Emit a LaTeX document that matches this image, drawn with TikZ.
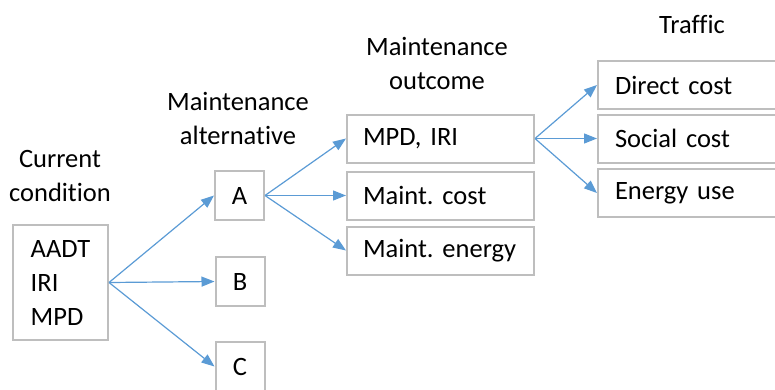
\documentclass[tikz,border=0pt]{standalone}
\usepackage{fontspec}
\setmainfont[WordSpace=0.8,Ligatures=NoCommon]{Carlito}
\usetikzlibrary{arrows.meta}
\definecolor{boxgray}{RGB}{190,190,190}
\definecolor{arrowblue}{RGB}{91,155,213}
\begin{document}
\begin{tikzpicture}[x=1pt,y=-1pt,
  every node/.style={font=\fontsize{26.5}{34}\selectfont\frenchspacing},
  box/.style={draw=boxgray, line width=2pt, rectangle, inner sep=0pt},
  sqbox/.style={box, minimum width=49pt, minimum height=49pt},
  widebox/.style={box, minimum height=48pt, text width=155pt, inner xsep=16pt, align=left},
  title/.style={align=center, inner sep=0pt},
  link/.style={draw=arrowblue, line width=1.2pt, -{Triangle[length=13pt,width=10pt]}}]
\useasboundingbox (0,0) rectangle (775,389);

% column headings
\node[title] (hcur) at (60,176) {Current\\condition};
\node[title] (halt) at (238,118) {Maintenance\\alternative};
\node[title] (hout) at (437,63) {Maintenance\\outcome};
\node[title] (htra) at (692,24) {Traffic};

% current condition
\node[box, minimum width=95pt, minimum height=115pt, align=left] (cur) at (60.5,282.5) {AADT\\IRI\\MPD};

% alternatives
\node[sqbox] (A) at (239.5,195.5) {A};
\node[sqbox] (B) at (240,281.5) {B};
\node[sqbox] (C) at (240,366.5) {C};

% maintenance outcomes
\node[widebox, minimum width=187pt] (mpd) at (440.5,138.5) {MPD, IRI};
\node[widebox, minimum width=187pt] (mcost) at (440.5,195.5) {Maint. cost};
\node[widebox, minimum width=187pt] (menergy) at (440.5,250.5) {Maint. energy};

% traffic outcomes, running on past the right edge
\node[widebox, text width=250pt, inner xsep=17pt] (direct) at (740,85) {Direct cost};
\node[widebox, text width=250pt, inner xsep=17pt] (social) at (740,138.5) {Social cost};
\node[widebox, text width=250pt, inner xsep=17pt] (energy) at (740,193) {Energy use};

% connectors
\draw[link] (cur.east) -- (A.west);
\draw[link] (cur.east) -- (B.west);
\draw[link] (cur.east) -- (C.west);
\draw[link] (A.east) -- (mpd.west);
\draw[link] (A.east) -- (mcost.west);
\draw[link] (A.east) -- (menergy.west);
\draw[link] (mpd.east) -- (direct.west);
\draw[link] (mpd.east) -- (social.west);
\draw[link] (mpd.east) -- (energy.west);
\end{tikzpicture}
\end{document}
